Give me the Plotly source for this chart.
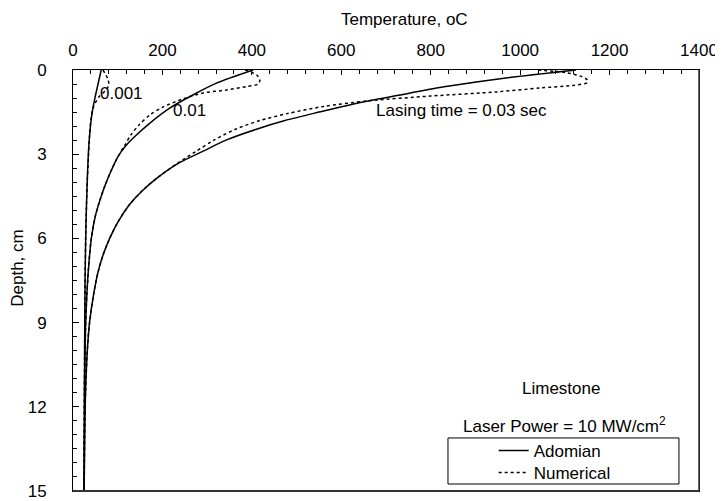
import plotly.graph_objects as go

# ---- data (Temperature in oC vs Depth in cm) ----
depth_adm_001 = [0, 0.5, 1.0, 1.5, 2.0, 2.8, 3.9, 5.5, 7.5, 10, 15]
temp_adm_001 = [63, 56, 49, 43, 39, 35, 32, 29, 27, 26, 25]

depth_num_001 = [0, 0.32, 0.53, 0.71, 0.96, 1.35, 1.78, 2.49, 3.3, 3.9, 5.5, 7.5, 10, 15]
temp_num_001 = [67, 78, 80, 74, 58, 45, 40, 36.5, 34, 32, 29, 27, 26, 25]

depth_adm_01 = [0, 0.46, 0.89, 1.35, 1.89, 2.3, 2.7, 3.1, 3.6, 4.1, 4.6, 5.2, 6.0, 7.0, 8.0, 9.2, 11, 15]
temp_adm_01 = [403, 322, 268, 217, 172, 143, 118, 100, 85, 72, 61, 50, 41, 35, 31, 28, 26, 25]

depth_num_01 = [0, 0.18, 0.36, 0.5, 0.59, 0.71, 0.82, 1.03, 1.32, 1.6, 1.95, 2.3, 2.7, 3.1, 3.6, 4.1, 4.6, 5.2, 6.0, 7.0, 8.0, 9.2, 11, 15]
temp_num_01 = [385, 411, 418, 414, 388, 344, 291, 246, 201, 172, 148, 130, 115, 100, 85, 72, 61, 50, 41, 35, 31, 28, 26, 25]

depth_adm_03 = [0, 0.3, 0.6, 0.9, 1.2, 1.5, 1.8, 2.1, 2.5, 2.9, 3.3, 3.8, 4.3, 4.8, 5.4, 6.0, 6.6, 7.2, 8.0, 9.0, 10, 11.5, 13, 15]
temp_adm_03 = [1125, 960, 830, 728, 630, 550, 474, 412, 342, 290, 238, 192, 155, 126, 101, 82, 67, 56, 46, 37, 32, 28, 26, 25]

depth_num_03 = [0, 0.1, 0.22, 0.35, 0.45, 0.55, 0.64, 0.78, 0.93, 1.1, 1.3, 1.55, 1.8, 2.1, 2.5, 2.9, 3.3, 3.8, 4.3, 4.8, 5.4, 6.0, 6.6, 7.2, 8.0, 9.0, 10, 11.5, 13, 15]
temp_num_03 = [1040, 1105, 1135, 1150, 1150, 1118, 1045, 948, 798, 660, 560, 480, 418, 365, 315, 275, 236, 192, 155, 126, 101, 82, 67, 56, 46, 37, 32, 28, 26, 25]

x_ticks = [0, 200, 400, 600, 800, 1000, 1200, 1400]
y_ticks = [0, 3, 6, 9, 12, 15]

FONT = "Liberation Sans, Arial, sans-serif"
FS = 17

fig = go.Figure()

series = [
    (temp_adm_001, depth_adm_001, "Adomian", "solid", "legend"),
    (temp_num_001, depth_num_001, "Numerical", "dot", "legend2"),
    (temp_adm_01, depth_adm_01, "Adomian", "solid", None),
    (temp_num_01, depth_num_01, "Numerical", "dot", None),
    (temp_adm_03, depth_adm_03, "Adomian", "solid", None),
    (temp_num_03, depth_num_03, "Numerical", "dot", None),
]
for t, d, name, dash, leg in series:
    fig.add_trace(go.Scatter(
        x=t, y=d, mode="lines", name=name, showlegend=leg is not None,
        legend=leg if leg else "legend",
        line=dict(color="black", width=1.5, dash=dash, shape="spline", smoothing=0.8),
    ))

annotations = [
    dict(x=56, y=0.82, text="0.001", xanchor="left", yanchor="middle"),
    dict(x=219, y=1.43, text="0.01", xanchor="left", yanchor="middle"),
    dict(x=868, y=1.46, text="Lasing time = 0.03 sec", xanchor="center", yanchor="middle"),
    dict(x=1091, y=11.33, text="Limestone", xanchor="center", yanchor="middle"),
    dict(x=1100, y=12.65, text="Laser Power = 10 MW/cm<sup>2</sup>", xanchor="center", yanchor="middle"),
]
for a in annotations:
    a.update(xref="x", yref="y", showarrow=False, font=dict(family=FONT, size=FS, color="black"))
fig.layout.annotations = [go.layout.Annotation(**a) for a in annotations]

fig.add_annotation(xref="paper", yref="paper", x=0.530, y=1.119, text="Temperature, oC",
                   showarrow=False, xanchor="center", yanchor="middle",
                   font=dict(family=FONT, size=FS, color="black"))
fig.add_annotation(xref="paper", yref="paper", x=-0.088, y=0.53, text="Depth, cm", textangle=-90,
                   showarrow=False, xanchor="center", yanchor="middle",
                   font=dict(family=FONT, size=FS, color="black"))

# legend frame
fig.add_shape(type="rect", xref="paper", yref="paper", x0=0.599, x1=0.968, y0=0.0166, y1=0.126,
              line=dict(color="black", width=1), fillcolor="white", layer="below")
# heavier bottom / right frame edges as in the reference
fig.add_shape(type="line", xref="paper", yref="paper", x0=0, x1=1, y0=0, y1=0,
              line=dict(color="#333333", width=2))
fig.add_shape(type="line", xref="paper", yref="paper", x0=1, x1=1, y0=0, y1=1,
              line=dict(color="#333333", width=1.5))

leg_common = dict(xanchor="left", yanchor="middle", bgcolor="rgba(0,0,0,0)", borderwidth=0,
                  font=dict(family=FONT, size=FS, color="black"))

fig.update_layout(
    width=715, height=493,
    margin=dict(l=65, r=24, t=62, b=10, autoexpand=False),
    paper_bgcolor="white", plot_bgcolor="white",
    font=dict(family=FONT, size=FS, color="black"),
    legend=dict(x=0.672, y=0.095, **leg_common),
    legend2=dict(x=0.672, y=0.043, **leg_common),
    xaxis=dict(side="top", range=[0, 1400], tickvals=x_ticks, ticks="inside", ticklen=5,
               tickcolor="black", showline=True, linecolor="black", linewidth=1, mirror=True,
               showgrid=False, zeroline=False, ticklabelstandoff=6, automargin=False,
               minor=dict(dtick=40, ticks="inside", ticklen=4, tickcolor="black", showgrid=False)),
    yaxis=dict(range=[15, 0], tickvals=y_ticks, ticks="inside", ticklen=6,
               tickcolor="black", showline=True, linecolor="black", linewidth=1, mirror=True,
               showgrid=False, zeroline=False, ticklabelstandoff=22, automargin=False,
               minor=dict(dtick=0.5, ticks="inside", ticklen=4, tickcolor="black", showgrid=False)),
)

fig.write_html("out.html")
